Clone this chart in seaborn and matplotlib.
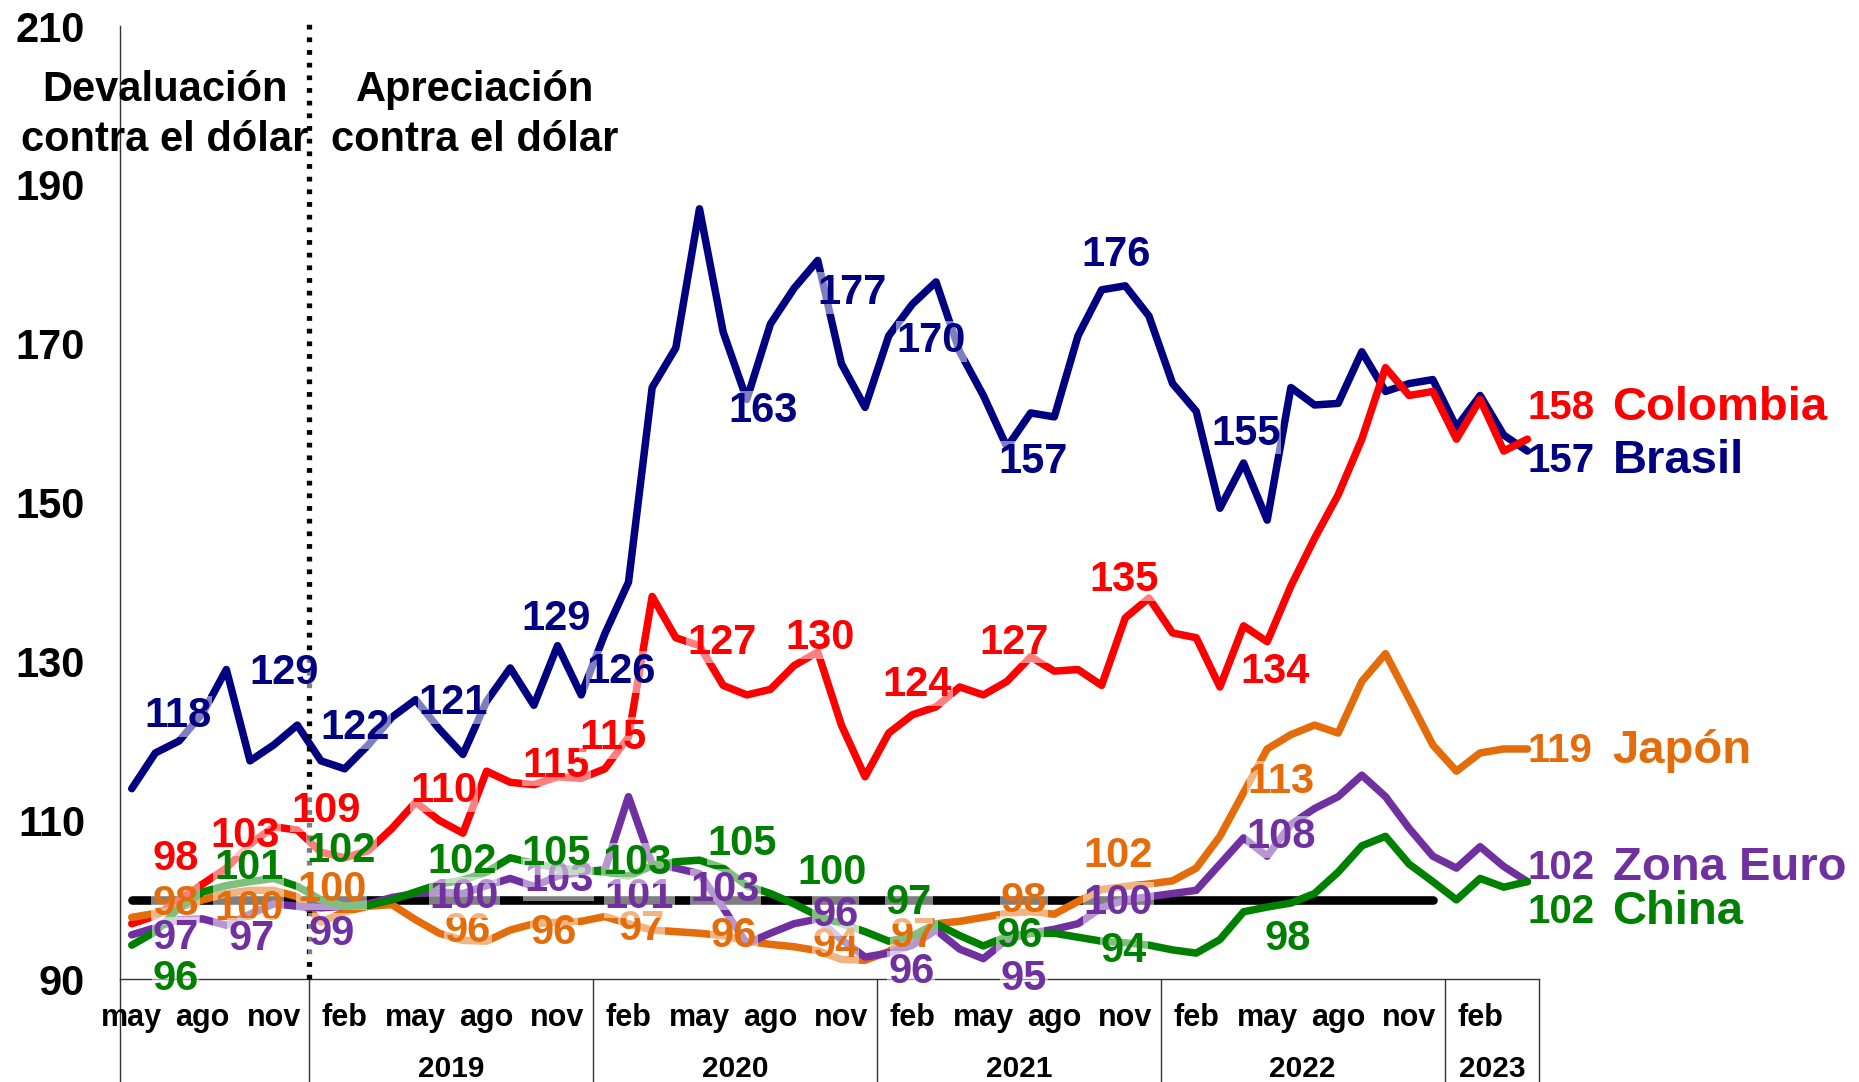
#%% packages
import numpy as np
import pandas as pd
import seaborn as sns
import matplotlib.pyplot as plt
import matplotlib.transforms as mtransforms

#%% data (indice mensual, may-2018 a abr-2023)
meses = pd.period_range("2018-05", "2023-04", freq="M").strftime("%Y-%m").tolist()

brasil = [114.0, 118.5, 120.0, 123.5, 129.0, 117.5, 119.5, 122.0, 117.5, 116.5,
          119.5, 123.0, 125.2, 121.5, 118.3, 125.0, 129.2, 124.5, 132.0, 125.8,
          133.5, 140.0, 164.5, 169.5, 187.0, 171.5, 163.0, 172.5, 177.0, 180.5,
          167.5, 162.0, 171.0, 175.0, 177.8, 169.0, 163.5, 157.0, 161.3, 160.8,
          171.0, 176.8, 177.3, 173.5, 165.0, 161.5, 149.3, 155.0, 147.8, 164.5,
          162.3, 162.5, 169.0, 164.0, 165.0, 165.5, 159.5, 163.5, 158.5, 156.5]

colombia = [97.0, 98.0, 100.0, 102.0, 104.0, 107.0, 109.2, 108.8, 106.0, 105.3,
            106.2, 109.0, 112.3, 110.0, 108.4, 116.2, 114.8, 114.5, 115.5, 115.3,
            116.5, 120.5, 138.2, 133.0, 132.0, 127.0, 125.8, 126.5, 129.5, 131.2,
            122.0, 115.5, 121.0, 123.3, 124.3, 126.8, 125.8, 127.5, 130.6, 128.8,
            129.0, 127.0, 135.5, 138.0, 133.6, 133.0, 126.8, 134.5, 132.5, 139.5,
            145.5, 151.0, 158.0, 167.0, 163.5, 164.0, 158.0, 163.0, 156.5, 158.0]

japon = [97.8, 98.3, 99.0, 100.0, 100.8, 101.2, 101.2, 100.4, 97.2, 98.5,
         99.2, 99.4, 97.5, 95.8, 94.9, 94.8, 96.2, 97.0, 97.2, 97.3,
         97.9, 97.0, 96.2, 96.0, 95.8, 95.5, 94.8, 94.4, 94.1, 93.6,
         92.5, 92.4, 93.5, 95.5, 97.0, 97.3, 97.8, 98.3, 98.5, 98.2,
         99.8, 101.3, 101.7, 102.0, 102.4, 104.0, 108.0, 113.5, 119.0, 120.8,
         122.0, 121.0, 127.5, 131.0, 125.3, 119.5, 116.2, 118.5, 119.0, 119.0]

zona_euro = [95.6, 96.5, 97.5, 97.6, 96.8, 98.2, 99.5, 99.2, 99.0, 99.2,
             99.5, 100.3, 100.8, 101.0, 100.8, 101.8, 102.7, 101.7, 103.0, 103.5,
             103.8, 113.0, 104.5, 104.0, 103.3, 99.0, 94.5, 95.8, 97.0, 97.6,
             95.0, 92.8, 93.3, 94.3, 96.2, 93.8, 92.6, 95.0, 95.8, 96.3,
             97.0, 99.0, 100.0, 100.4, 100.8, 101.2, 104.5, 107.8, 105.5, 109.5,
             111.5, 113.0, 115.7, 113.0, 109.0, 105.5, 104.0, 106.7, 104.2, 102.3]

china = [94.3, 96.0, 99.0, 101.0, 101.8, 102.3, 102.7, 101.7, 100.0, 99.2,
         99.3, 100.0, 101.0, 102.0, 102.5, 103.5, 105.3, 104.6, 104.0, 103.8,
         103.5, 103.0, 104.3, 104.8, 105.0, 104.0, 101.8, 100.8, 99.5, 98.0,
         97.0, 96.0, 94.8, 95.4, 97.0, 95.5, 94.2, 95.4, 95.8, 95.8,
         95.3, 94.8, 94.6, 94.3, 93.7, 93.3, 95.0, 98.5, 99.1, 99.6,
         100.8, 103.5, 106.8, 108.0, 104.5, 102.3, 100.0, 102.7, 101.6, 102.3]

series = {"Brasil": brasil, "Colombia": colombia, "Japón": japon,
          "Zona Euro": zona_euro, "China": china}
colores = {"Brasil": "#000080", "Colombia": "#FF0000", "Japón": "#E46C0A",
           "Zona Euro": "#7030A0", "China": "#008000"}

base_valor = 100
base_hasta = "2022-12"
corte = "2019-01"   # separa devaluacion / apreciacion

ticks_mes = ["may", "ago", "nov", "feb", "may", "ago", "nov", "feb", "may", "ago",
             "nov", "feb", "may", "ago", "nov", "feb", "may", "ago", "nov", "feb"]
anios = ["2019", "2020", "2021", "2022", "2023"]
yticks = [90, 110, 130, 150, 170, 190, 210]

# etiquetas de datos: (texto, mes, nivel)
etiquetas = {
    "Brasil": [("118", 1.95, 123.1), ("129", 6.45, 128.5), ("122", 9.45, 121.6),
               ("121", 13.6, 124.8), ("129", 17.95, 135.4), ("126", 20.7, 128.7),
               ("163", 26.7, 161.5), ("177", 30.45, 176.4), ("170", 33.8, 170.3),
               ("157", 38.1, 155.1), ("176", 41.6, 181.2), ("155", 47.1, 158.7)],
    "Colombia": [("98", 1.85, 105.1), ("103", 4.8, 108.1), ("109", 8.2, 111.2),
                 ("110", 13.2, 113.7), ("115", 17.95, 116.9), ("115", 20.35, 120.4),
                 ("127", 24.95, 132.4), ("130", 29.1, 133.0), ("124", 33.2, 127.0),
                 ("127", 37.3, 132.4), ("135", 41.95, 140.3), ("134", 48.35, 128.7)],
    "Japón": [("98", 1.85, 99.5), ("100", 4.95, 98.8), ("100", 8.45, 101.3),
              ("96", 14.2, 96.1), ("96", 17.85, 95.8), ("97", 21.55, 96.3),
              ("96", 25.45, 95.4), ("94", 29.75, 94.2), ("97", 33.05, 95.4),
              ("98", 37.7, 99.9), ("102", 41.7, 105.5), ("113", 48.6, 114.8)],
    "Zona Euro": [("97", 1.85, 95.2), ("97", 5.05, 95.1), ("99", 8.45, 95.7),
                  ("100", 14.05, 100.3), ("103", 18.05, 102.5), ("101", 21.45, 100.3),
                  ("103", 25.1, 101.3), ("96", 29.75, 98.1), ("96", 32.95, 90.9),
                  ("95", 37.7, 90.1), ("100", 41.7, 99.6), ("108", 48.6, 107.9)],
    "China": [("96", 1.85, 90.1), ("101", 4.95, 104.0), ("102", 8.85, 106.1),
              ("102", 13.95, 104.8), ("105", 17.95, 105.8), ("103", 21.35, 104.6),
              ("105", 25.8, 107.0), ("100", 29.6, 103.4), ("97", 32.85, 99.6),
              ("96", 37.55, 95.4), ("94", 41.95, 93.6), ("98", 48.85, 95.1)],
}
finales = {"Colombia": ("158", 161.9), "Brasil": ("157", 155.2), "Japón": ("119", 118.8),
           "Zona Euro": ("102", 104.0), "China": ("102", 98.5)}

#%% long dataframe
df = pd.DataFrame({"mes": meses, **series})
df["pos"] = np.arange(len(df))
df_long = df.melt(id_vars=["mes", "pos"], var_name="serie", value_name="valor")

#%% plot
sns.set_style("white")
plt.rcParams["font.family"] = ["Liberation Sans", "DejaVu Sans"]
plt.rcParams["font.weight"] = "bold"
plt.rcParams["text.color"] = "black"
plt.rcParams["ytick.color"] = "black"
plt.rcParams["xtick.color"] = "black"

fig = plt.figure(figsize=(18.59, 10.82), dpi=100)
ax = fig.add_axes([0.0645, 0.0949, 0.7635, 0.881])

pos = {m: i for i, m in enumerate(meses)}
ax.hlines(base_valor, 0, pos[base_hasta], color="black", linewidth=6.2,
          zorder=1.5, capstyle="round")

sns.lineplot(data=df_long, x="pos", y="valor", hue="serie",
             hue_order=list(series.keys()), palette=colores,
             legend=False, ax=ax, zorder=2)
for line in ax.get_lines():
    line.set_linewidth(5.4)
    line.set_solid_joinstyle("round")
    line.set_solid_capstyle("round")

# linea punteada de corte
ax.vlines(pos[corte] - 0.5, 90, 211, colors="black", linewidth=3.8,
          linestyles=(0, (0.9, 1.5)), clip_on=False, zorder=3)

ax.set_xlim(-0.5, 59.5)
ax.set_ylim(90, 210)
ax.set_xlabel("")
ax.set_ylabel("")

ax.set_yticks(yticks)
ax.set_yticklabels([str(v) for v in yticks], fontsize=30, fontweight="bold")
ax.tick_params(axis="y", length=0, pad=25)
ax.set_xticks([])

for s in ["top", "right"]:
    ax.spines[s].set_visible(False)
for s in ["left", "bottom"]:
    ax.spines[s].set_linewidth(1)
    ax.spines[s].set_color("#333333")

# eje de categorias: meses y anios
trans = mtransforms.blended_transform_factory(ax.transData, ax.transAxes)
for k, lab in enumerate(ticks_mes):
    ax.text(k * 3, -0.041, lab, transform=trans, ha="center", va="center",
            fontsize=22, fontweight="bold")
inicios = [pos[a + "-01"] for a in anios]
limites = [-0.5] + [p - 0.5 for p in inicios] + [len(meses) - 0.5]
for a, ini, fin in zip(anios, limites[1:-1], limites[2:]):
    ax.text((ini + fin) / 2, -0.094, a, transform=trans, ha="center", va="center",
            fontsize=21.5, fontweight="bold")
for x in limites:
    ax.plot([x, x], [0, -0.12], transform=trans, color="#333333", linewidth=1,
            clip_on=False)

# etiquetas de datos
for serie, labs in etiquetas.items():
    for txt, x, y in labs:
        ax.text(x, y, txt, color=colores[serie], fontsize=30, fontweight="bold",
                ha="center", va="center", zorder=4,
                bbox=dict(facecolor="white", alpha=0.5, edgecolor="none", pad=0.5))

# etiquetas finales
for serie, (num, y) in finales.items():
    ax.text(59.0, y, num, color=colores[serie], fontsize=29, fontweight="bold",
            ha="left", va="center", clip_on=False, zorder=4)
    ax.text(62.6, y, serie, color=colores[serie], fontsize=34, fontweight="bold",
            ha="left", va="center", clip_on=False, zorder=4)

# textos de cabecera
ax.text(1.4, 198.8, "Devaluación\ncontra el dólar", ha="center", va="center",
        fontsize=30, fontweight="bold", linespacing=1.34)
ax.text(14.5, 198.8, "Apreciación\ncontra el dólar", ha="center", va="center",
        fontsize=30, fontweight="bold", linespacing=1.34)

fig.savefig("out.png", dpi=100)
